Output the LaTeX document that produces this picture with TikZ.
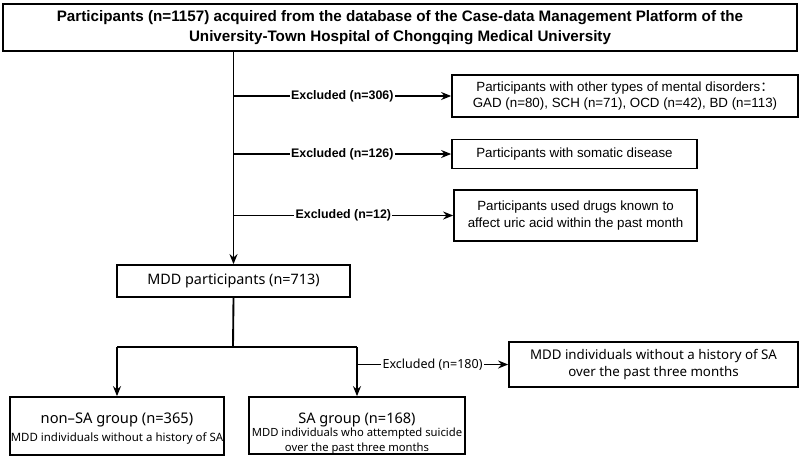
\documentclass[tikz,border=0pt]{standalone}
\usepackage{fontspec}
\setmainfont{Liberation Sans}
\newfontfamily\pffont{Noto Sans}
\newfontfamily\cjk{Noto Sans CJK SC}
\usetikzlibrary{arrows.meta}

\begin{document}
\begin{tikzpicture}[x=0.75pt, y=-0.75pt, line join=miter, >={Stealth[length=7.5pt,width=6pt]},
	box/.style={draw, line width=1.3pt, inner sep=0pt, align=center},
	link/.style={line width=1.4pt},
	exlab/.style={fill=white, inner sep=1pt, font=\fontsize{9.3}{11}\selectfont\bfseries},
	exlabb/.style={fill=white, inner sep=1pt, font=\pffont\fontsize{9.4}{11}\selectfont}]
	\useasboundingbox (0,0) rectangle (800,457);
	% boxes
	\node[box, line width=1.5pt, minimum width=595.5pt, minimum height=35.25pt,
		font=\fontsize{11.4}{15}\selectfont\bfseries] (all) at (400,27.5)
		{Participants (n=1157) acquired from the database of the Case-data Management Platform of the\\
		University-Town Hospital of Chongqing Medical University};
	\node[box, minimum width=259.5pt, minimum height=31.5pt, font=\fontsize{10}{12.5}\selectfont] (mental) at (625,96)
		{Participants with other types of mental disorders{\cjk ：}\\GAD (n=80), SCH (n=71), OCD (n=42), BD (n=113)};
	\node[box, minimum width=183.75pt, minimum height=21.75pt, font=\fontsize{10}{12}\selectfont] (somatic) at (574.5,154)
		{Participants with somatic disease};
	\node[box, minimum width=182.25pt, minimum height=38.25pt, font=\fontsize{10}{12.5}\selectfont] (drugs) at (575.5,215.5)
		{Participants used drugs known to\\affect uric acid within the past month};
	\node[box, minimum width=174.75pt, minimum height=24pt, font=\pffont\fontsize{10.8}{14}\selectfont] (mdd) at (233.5,281)
		{MDD participants (n=713)};
	\node[box, minimum width=160.5pt, minimum height=43.5pt] (nonsa) at (117,426) {};
	\node[align=center, inner sep=0pt, font=\pffont\fontsize{8.6}{13}\selectfont] (nonsatext) at ([yshift=-2pt]nonsa.center)
		{{\fontsize{11}{13}\selectfont non–SA group (n=365)}\\
		MDD individuals without a history of SA};
	\node[box, minimum width=162pt, minimum height=42.75pt] (sa) at (357,425.5) {};
	\node[align=center, inner sep=0pt, font=\pffont\fontsize{8.45}{11.2}\selectfont] (satext) at ([yshift=-6pt]sa.center)
		{{\fontsize{10.9}{12}\selectfont SA group (n=168)}\\[-1pt]
		MDD individuals who attempted suicide\\over the past three months};
	\node[box, minimum width=216.75pt, minimum height=33.75pt, font=\pffont\fontsize{10}{12.5}\selectfont] (nosa) at (653.5,364.5)
		{MDD individuals without a history of SA\\over the past three months};
	% connectors
	\coordinate (split) at (233,347);
	\draw[link,->] (all.south -| mdd.north) -- (mdd.north);
	\draw[link,->] (mental.west -| mdd.north) -- node[exlab]{Excluded (n=306)} (mental.west);
	\draw[link,->] (somatic.west -| mdd.north) -- node[exlab]{Excluded (n=126)} (somatic.west);
	\draw[link,->] (drugs.west -| mdd.north) -- node[exlab]{Excluded (n=12)} (drugs.west);
	\draw[link] (mdd.south) -- (split);
	\draw[link] (nonsa.north |- split) -- (sa.north |- split);
	\draw[link,->] (nonsa.north |- split) -- (nonsa.north);
	\draw[link,->] (sa.north |- split) -- (sa.north);
	\draw[link,->] (sa.north |- nosa.west) -- node[exlabb]{Excluded (n=180)} (nosa.west);
\end{tikzpicture}
\end{document}
